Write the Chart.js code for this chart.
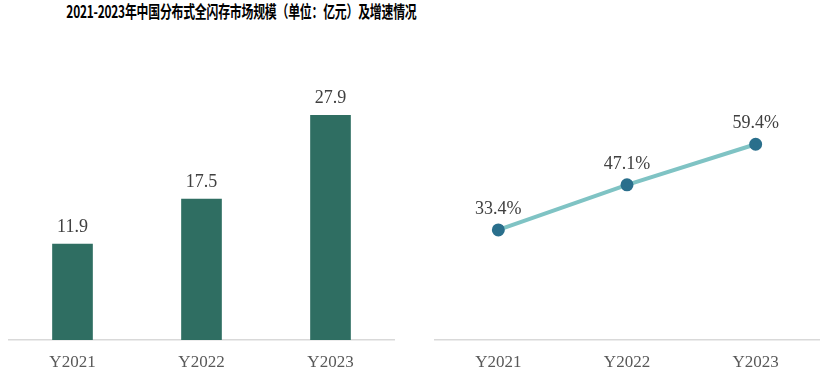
<!DOCTYPE html>
<html>
<head>
<meta charset="utf-8">
<script src="https://cdn.jsdelivr.net/npm/chart.js@4"></script>
<style>
  html, body { margin:0; padding:0; background:#fff; }
  #page { position:relative; width:831px; height:384px; overflow:hidden; }
  #title { position:absolute; left:0; top:-1px; width:475px; text-align:center; white-space:nowrap;
    font-family:"Noto Sans CJK SC", sans-serif; font-weight:bold; font-size:16.5px; color:#000;
    letter-spacing:-0.3px; transform:scaleX(0.72); transform-origin:237px 50%; }
  .box { position:absolute; top:50px; height:334px; }
  #leftBox { left:8px; width:387px; }
  #rightBox { left:434px; width:386px; }
</style>
</head>
<body>
<div id="page">
  <div id="title">2021-2023年中国分布式全闪存市场规模（单位：亿元）及增速情况</div>
  <div class="box" id="leftBox"><canvas id="sizeChart"></canvas></div>
  <div class="box" id="rightBox"><canvas id="growthChart"></canvas></div>
</div>
<script>
// ---- data ----
const years = ['Y2021', 'Y2022', 'Y2023'];
const marketSize = [11.9, 17.5, 27.9];      // 亿元
const growthRate = [33.4, 47.1, 59.4];      // %

const serif = "'Liberation Serif', 'Times New Roman', serif";

// small inline plugin: value labels above each mark
const valueLabels = {
  id: 'valueLabels',
  afterDatasetsDraw(chart, args, opts){
    const ctx = chart.ctx;
    chart.data.datasets.forEach((ds, i) => {
      const meta = chart.getDatasetMeta(i);
      meta.data.forEach((el, j) => {
        ctx.save();
        ctx.font = '18px ' + serif;
        ctx.fillStyle = '#404040';
        ctx.textAlign = 'center';
        ctx.textBaseline = 'alphabetic';
        ctx.fillText(opts.format(ds.data[j]), el.x, el.y - opts.offset);
        ctx.restore();
      });
    });
  }
};

function xAxis(){
  return {
    offset: true,
    grid: { display:false, drawTicks:false },
    border: { display:true, color:'#d9d9d9', width:1.5 },
    ticks: { color:'#595959', font:{ family:serif, size:17 }, padding:12 },
    afterFit: s => { s.height = 44; }
  };
}

const commonOpts = {
  responsive: true,
  maintainAspectRatio: false,
  animation: false,
  layout: { padding: 0, autoPadding: false },
  plugins: { legend:{ display:false }, tooltip:{ enabled:false } }
};

new Chart(document.getElementById('sizeChart'), {
  type: 'bar',
  data: {
    labels: years,
    datasets: [{ data: marketSize, backgroundColor:'#2f6e62', barThickness:40 }]
  },
  options: {
    ...commonOpts,
    plugins: { ...commonOpts.plugins, valueLabels:{ offset:12, format:v => v.toFixed(1) } },
    scales: {
      x: xAxis(),
      y: { display:false, min:0, max:36 }
    }
  },
  plugins: [valueLabels]
});

new Chart(document.getElementById('growthChart'), {
  type: 'line',
  data: {
    labels: years,
    datasets: [{
      data: growthRate,
      borderColor:'#7fc3c4', borderWidth:4,
      pointBackgroundColor:'#2a6f8c', pointBorderColor:'#2a6f8c',
      pointRadius:4.5, tension:0
    }]
  },
  options: {
    ...commonOpts,
    plugins: { ...commonOpts.plugins, valueLabels:{ offset:16, format:v => v.toFixed(1) + '%' } },
    scales: {
      x: xAxis(),
      y: { display:false, min:0, max:88 }
    }
  },
  plugins: [valueLabels]
});
</script>
</body>
</html>
